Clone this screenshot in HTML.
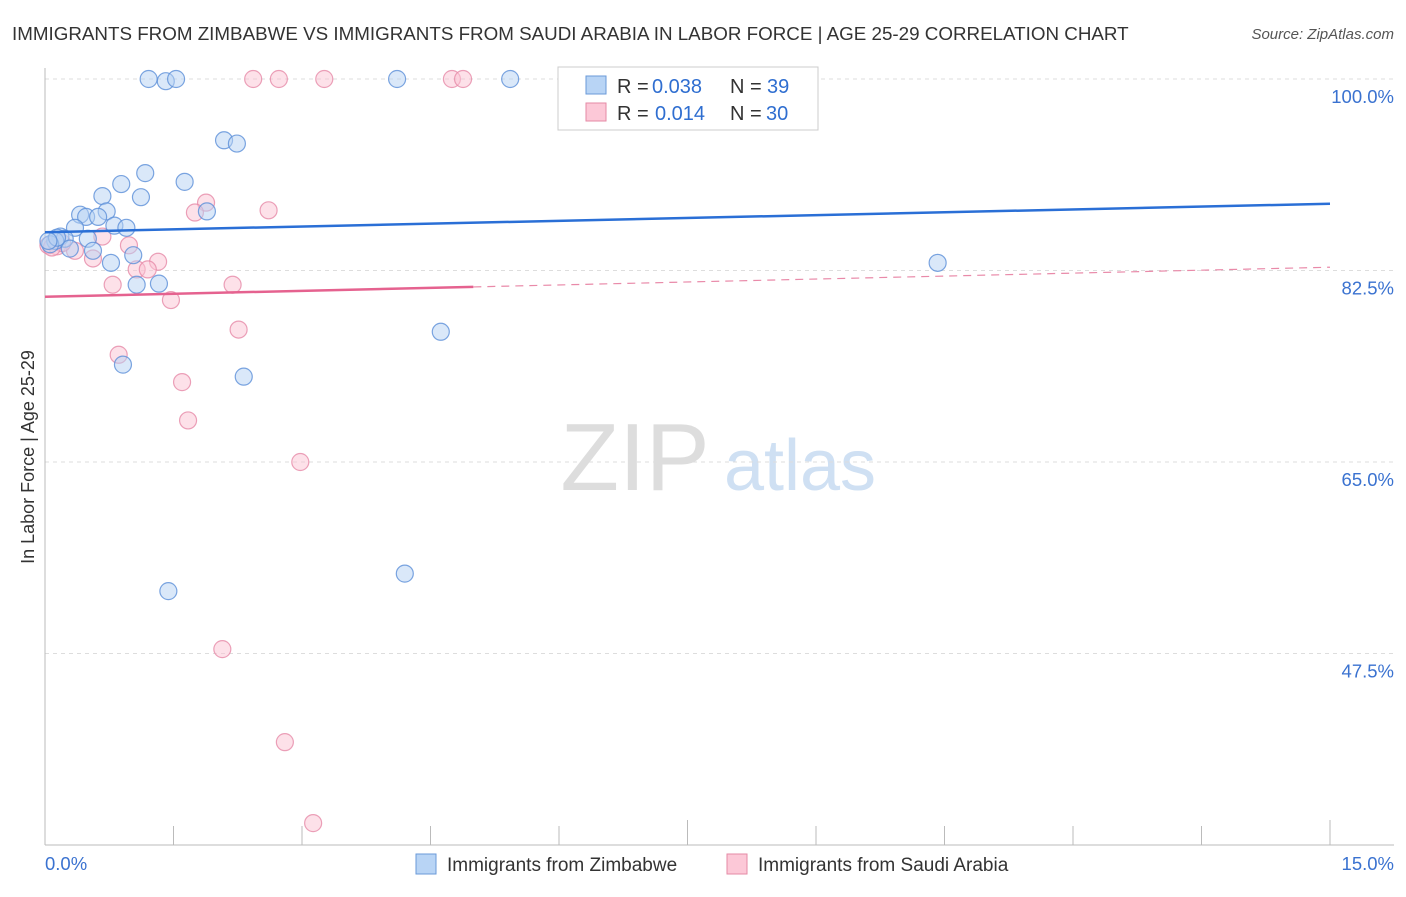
<!DOCTYPE html>
<html><head><meta charset="utf-8"><style>
body{margin:0;background:#fff;font-family:"Liberation Sans",sans-serif}
svg text{font-family:"Liberation Sans",sans-serif}
</style></head><body>
<svg id="c" width="1406" height="892">
<text x="12" y="40" font-size="18.8" fill="#333">IMMIGRANTS FROM ZIMBABWE VS IMMIGRANTS FROM SAUDI ARABIA IN LABOR FORCE | AGE 25-29 CORRELATION CHART</text>
<text x="1394" y="39" font-size="15" fill="#555" text-anchor="end" font-style="italic">Source: ZipAtlas.com</text>
<text x="635" y="490" font-size="96" fill="#ddd" text-anchor="middle" font-family="Liberation Serif">ZIP</text>
<text x="800" y="490" font-size="72" fill="#cfe0f3" text-anchor="middle">atlas</text>
<text transform="translate(34,457) rotate(-90)" font-size="18" fill="#333" text-anchor="middle">In Labor Force | Age 25-29</text>
<g id="grid"></g><g id="pts"></g><g id="lines"></g>
<g>
<rect x="558" y="67" width="260" height="63" fill="#fff" stroke="#ccc"/>
<rect x="586" y="76" width="20" height="18" fill="#b8d4f5" stroke="#6a9ad8"/>
<rect x="586" y="103" width="20" height="18" fill="#fcc8d7" stroke="#e58aa6"/>
<text x="617" y="93" font-size="20" fill="#333">R =</text>
<text x="652" y="93" font-size="20" fill="#2f6ed0">0.038</text>
<text x="730" y="93" font-size="20" fill="#333">N =</text>
<text x="767" y="93" font-size="20" fill="#2f6ed0">39</text>
<text x="617" y="120" font-size="20" fill="#333">R =</text>
<text x="655" y="120" font-size="20" fill="#2f6ed0">0.014</text>
<text x="730" y="120" font-size="20" fill="#333">N =</text>
<text x="766" y="120" font-size="20" fill="#2f6ed0">30</text>
</g>
<g>
<rect x="416" y="854" width="20" height="20" fill="#b8d4f5" stroke="#6a9ad8"/>
<text x="447" y="871" font-size="19" fill="#333">Immigrants from Zimbabwe</text>
<rect x="727" y="854" width="20" height="20" fill="#fcc8d7" stroke="#e58aa6"/>
<text x="758" y="871" font-size="19" fill="#333">Immigrants from Saudi Arabia</text>
</g>
<text x="45" y="870" font-size="18.5" fill="#3a72d0">0.0%</text>
<text x="1394" y="870" font-size="18.5" fill="#3a72d0" text-anchor="end">15.0%</text>
</svg>
<script>
const yTicks=[100,82.5,65,47.5];
const yTickLabels=["100.0%","82.5%","65.0%","47.5%"];
const xTicks=[0,1.5,3,4.5,6,7.5,9,10.5,12,13.5,15];
const blueX=[1.21,1.41,1.53,4.11,5.43,2.09,2.24,1.17,1.63,0.89,0.67,1.12,0.72,1.89,0.41,0.48,0.62,0.35,0.81,0.95,0.18,0.23,0.5,0.12,0.06,0.29,0.56,1.03,0.77,10.42,1.07,1.33,4.62,0.91,2.32,4.2,1.44,0.14,0.04];
const blueY=[100,99.8,100,100,100,94.4,94.1,91.4,90.6,90.4,89.3,89.2,87.9,87.9,87.6,87.4,87.4,86.4,86.6,86.4,85.6,85.4,85.4,85.2,84.9,84.5,84.3,83.9,83.2,83.2,81.2,81.3,76.9,73.9,72.8,54.8,53.2,85.5,85.2];
const pinkX=[2.43,2.73,3.26,4.75,4.88,1.88,1.75,2.61,0.67,0.98,0.04,0.35,0.14,0.56,1.32,1.07,1.2,0.79,2.19,1.47,2.26,0.86,1.6,1.67,2.98,2.07,2.8,3.13,0.2,0.08];
const pinkY=[100,100,100,100,100,88.7,87.8,88,85.6,84.8,84.8,84.3,84.7,83.6,83.3,82.6,82.6,81.2,81.2,79.8,77.1,74.8,72.3,68.8,65,47.9,39.4,32,85,84.6];
const trendBlue=[86.0,88.6];
const trendPink=[80.1,82.8];
const pinkSolidEnd=5.0;
const X0=45,X1=1330,Ytop=79,YperPct=191.5/17.5;
const xs=v=>X0+v/15*(X1-X0);
const ys=v=>Ytop+(100-v)*YperPct;
const NS="http://www.w3.org/2000/svg";
function mk(t,a,p){const e=document.createElementNS(NS,t);for(const k in a)e.setAttribute(k,a[k]);p.appendChild(e);return e;}
const g=document.getElementById('grid');
yTicks.forEach((v,i)=>{
 const l=mk('line',{x1:X0,x2:1394,y1:ys(v),y2:ys(v),stroke:'#ddd','stroke-dasharray':'4,4'},g);
 
 
 const t=mk('text',{x:1394,y:ys(v)+24,'font-size':18.5,fill:'#3a72d0','text-anchor':'end'},g);
 t.textContent=yTickLabels[i];
 
 
});
const ax=mk('line',{x1:X0,x2:1394,y1:845,y2:845,stroke:'#bbb'},g);


const ay=mk('line',{x1:X0,x2:X0,y1:68,y2:845,stroke:'#bbb'},g);


xTicks.forEach((v,i)=>{
 const tall=(i==0||i==5||i==10);
 const t=mk('line',{x1:xs(v),x2:xs(v),y1:tall?820:826,y2:845,stroke:'#bbb'},g);
 
 
});
const p=document.getElementById('pts');
function dots(X,Y,f,s,n){X.forEach((x,i)=>{const c=mk('circle',{cx:xs(x),cy:ys(Y[i]),r:8.5,fill:f,'fill-opacity':0.5,stroke:s,'stroke-width':1.2,'stroke-opacity':0.8},p);
 
 });}
dots(pinkX,pinkY,'#fbc4d4','#e68aa7','saudi-point');
dots(blueX,blueY,'#b5d1f4','#5b8fd8','zimbabwe-point');
const L=document.getElementById('lines');
const bl=mk('line',{x1:xs(0),y1:ys(trendBlue[0]),x2:xs(15),y2:ys(trendBlue[1]),stroke:'#2a6fd6','stroke-width':2.5},L);


const pe=trendPink[0]+(trendPink[1]-trendPink[0])*pinkSolidEnd/15;
const pl=mk('line',{x1:xs(0),y1:ys(trendPink[0]),x2:xs(pinkSolidEnd),y2:ys(pe),stroke:'#e5628f','stroke-width':2.5},L);


const pd=mk('line',{x1:xs(pinkSolidEnd),y1:ys(pe),x2:xs(15),y2:ys(trendPink[1]),stroke:'#e98aa9','stroke-width':1.2,'stroke-dasharray':'8,6'},L);


</script>
</body></html>
